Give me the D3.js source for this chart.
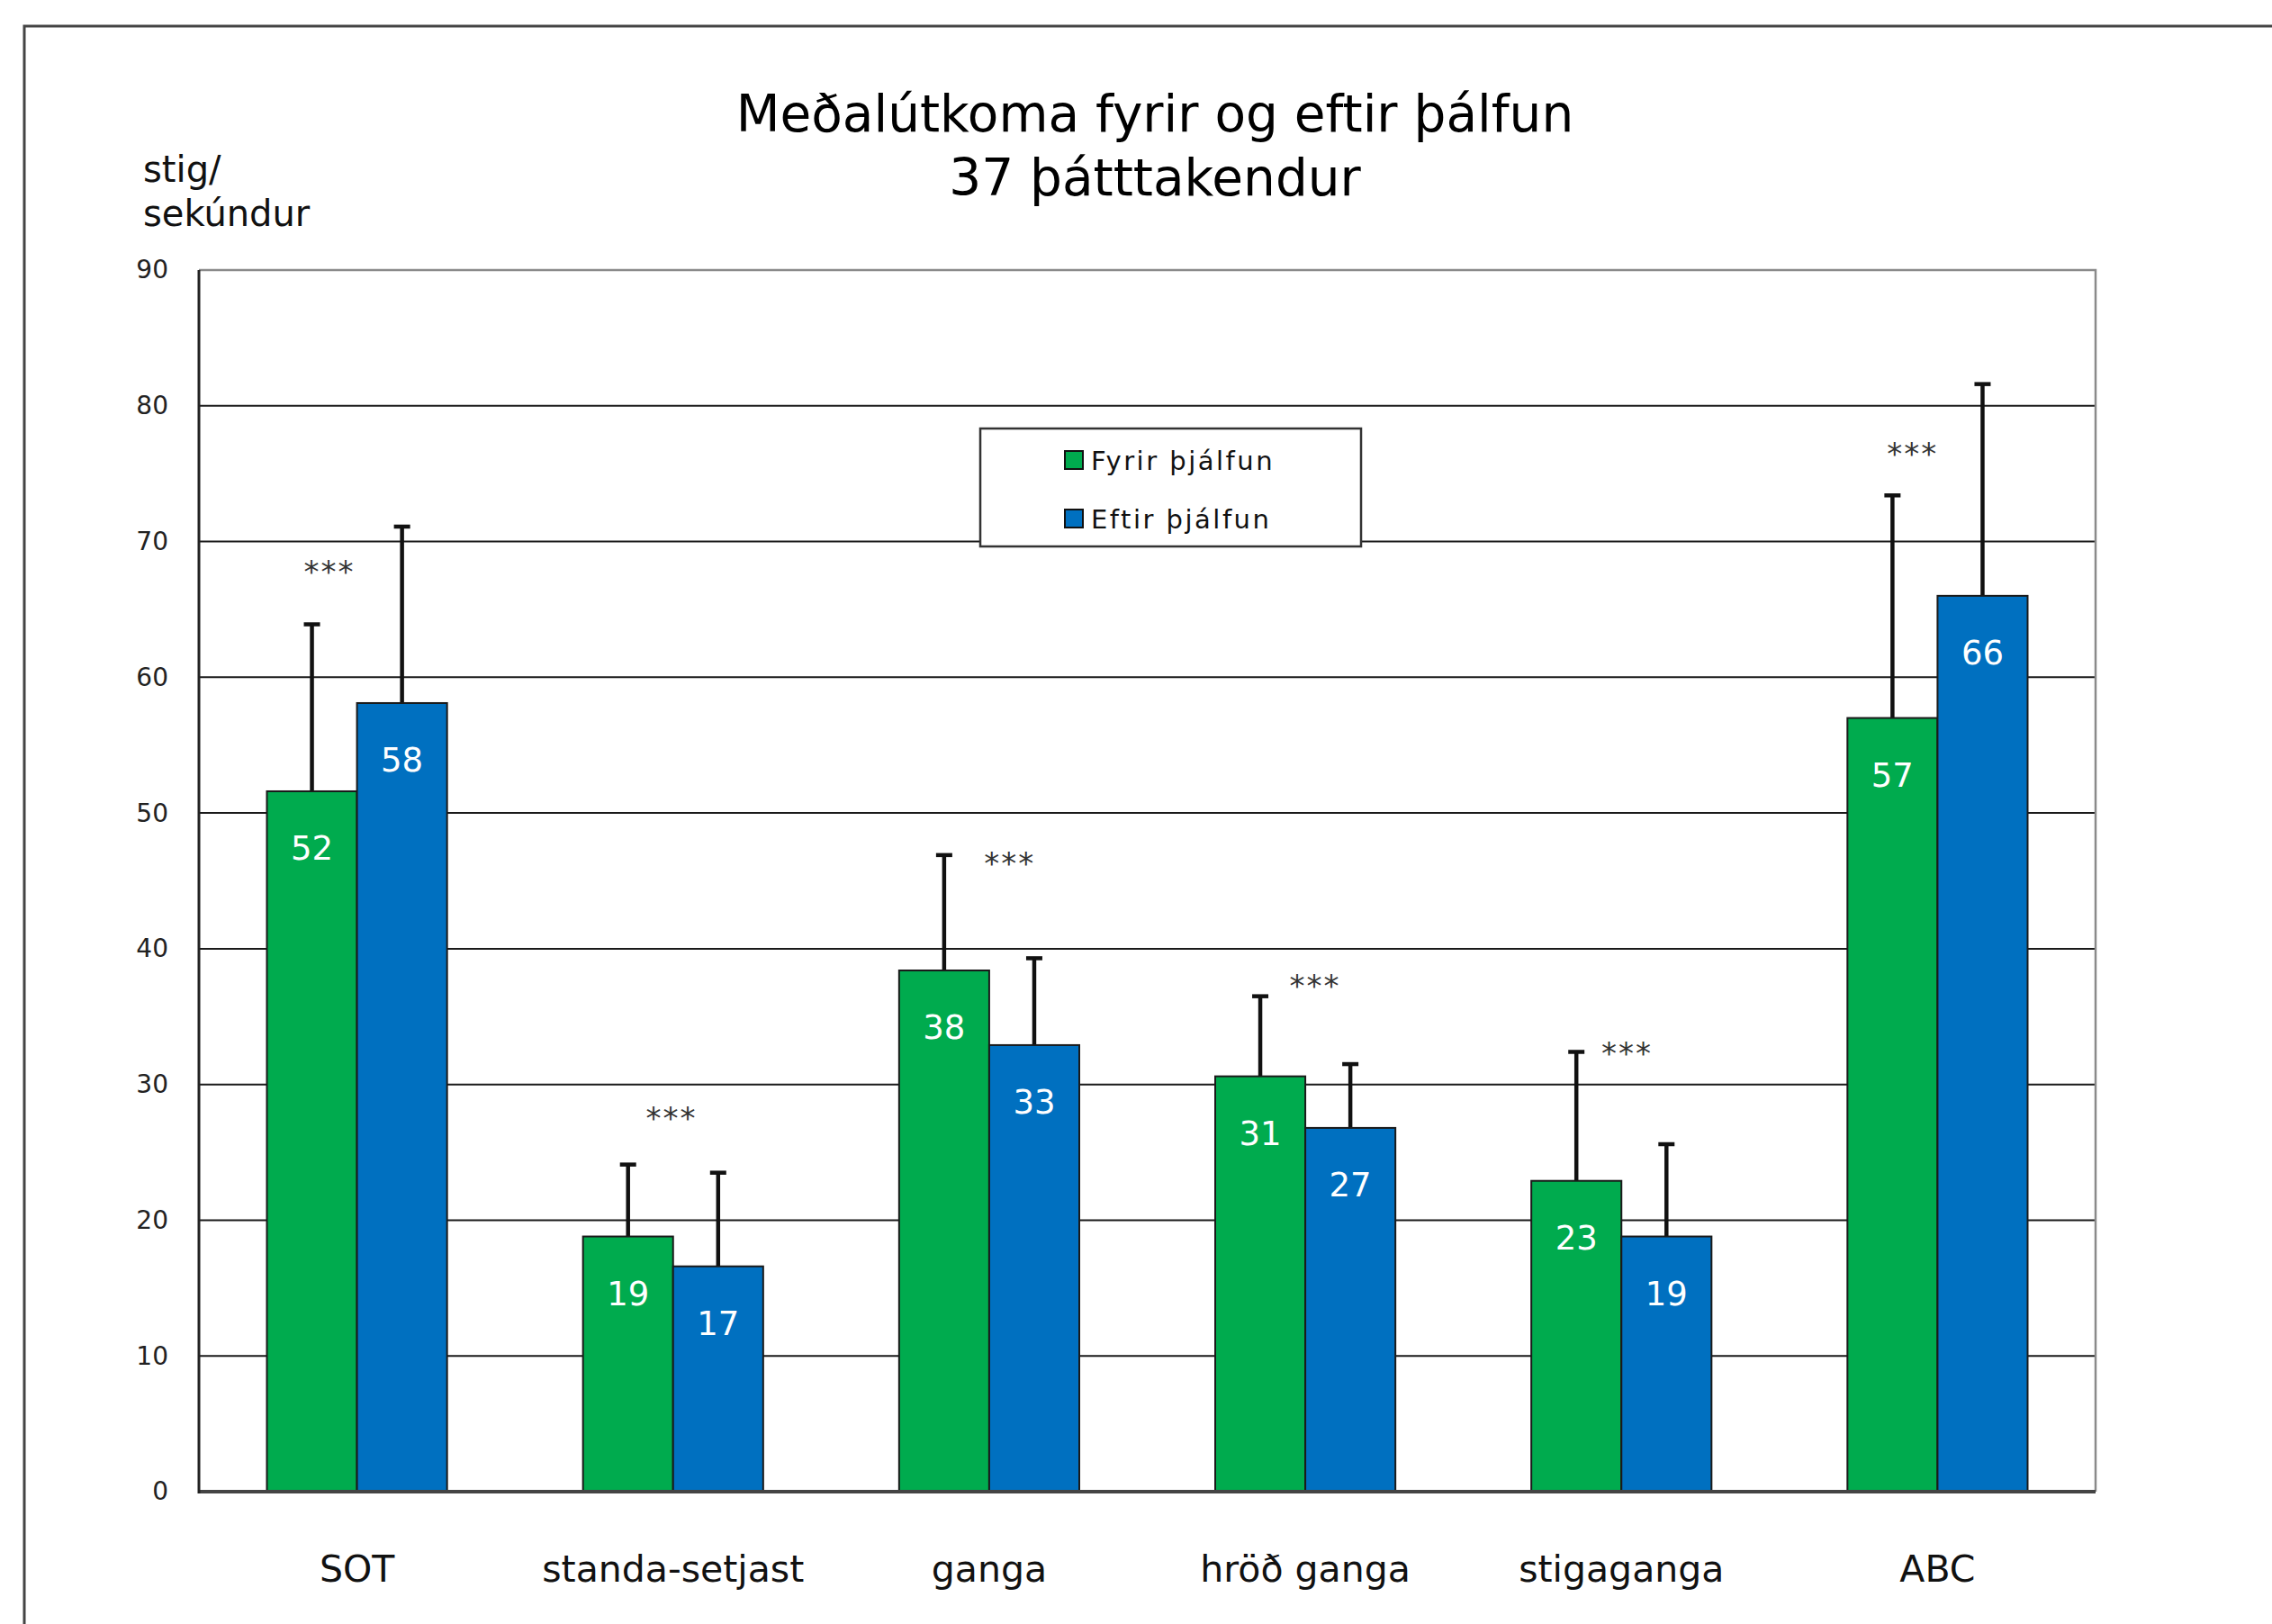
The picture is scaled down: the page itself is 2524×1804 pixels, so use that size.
<!DOCTYPE html>
<html>
<head>
<meta charset="utf-8">
<script src="https://cdn.jsdelivr.net/npm/d3@7"></script>
<style>
  html, body { margin: 0; padding: 0; background: #fff; }
  svg { display: block; }
  text { font-family: "DejaVu Sans", Verdana, sans-serif; }
</style>
</head>
<body>
<svg id="chart" width="2524" height="1804"></svg>
<script>
// ---- data ----
const categories = ["SOT", "standa-setjast", "ganga", "hröð ganga", "stigaganga", "ABC"];
const seriesNames = ["Fyrir þjálfun", "Eftir þjálfun"];
const fyrir = [51.6, 18.8, 38.4, 30.6, 22.9, 57.0];
const eftir = [58.1, 16.6, 32.9, 26.8, 18.8, 66.0];
const fyrirErr = [12.3, 5.3, 8.5, 5.9, 9.5, 16.4];
const eftirErr = [13.0, 6.9, 6.4, 4.7, 6.8, 15.6];
const yTicks = [0, 10, 20, 30, 40, 50, 60, 70, 80, 90];
const starLevels = [68.4, 28.1, 46.9, 37.9, 32.9, 77.1];
const starShift = [-0.087, -0.005, 0.065, 0.031, 0.018, -0.079];
const titleLines = ["Meðalútkoma fyrir og eftir þálfun", "37 þátttakendur"];
const yTitleLines = ["stig/", "sekúndur"];
const colors = ["#00AB4E", "#0070C0"];

// ---- layout ----
const svg = d3.select("#chart");
const plot = { left: 221, right: 2328, top: 300, bottom: 1657 };

// outer frame
svg.append("rect").attr("x", 27).attr("y", 29).attr("width", 2700).attr("height", 2000)
  .attr("fill", "#fff").attr("stroke", "#444").attr("stroke-width", 3);

const x = d3.scaleBand().domain(categories).range([plot.left, plot.right])
  .paddingInner(0.43).paddingOuter(0.215);
const xs = d3.scaleBand().domain(seriesNames).range([0, x.bandwidth()]);
const y = d3.scaleLinear().domain([0, 90]).range([plot.bottom, plot.top]);

// plot background
svg.append("rect").attr("x", plot.left).attr("y", plot.top)
  .attr("width", plot.right - plot.left).attr("height", plot.bottom - plot.top)
  .attr("fill", "#fff");

// gridlines
svg.append("g").selectAll("line").data(yTicks.filter(d => d > 0 && d < 90)).join("line")
  .attr("x1", plot.left).attr("x2", plot.right)
  .attr("y1", d => y(d)).attr("y2", d => y(d))
  .attr("stroke", "#1a1a1a").attr("stroke-width", 2);

// top/right frame
svg.append("path")
  .attr("d", `M${plot.left},${y(90)}H${plot.right}V${plot.bottom}`)
  .attr("fill", "none").attr("stroke", "#8a8a8a").attr("stroke-width", 2.5);

// y axis
const yAxis = d3.axisLeft(y).tickValues(yTicks).tickSize(0).tickPadding(34);
const gy = svg.append("g").attr("transform", `translate(${plot.left},0)`).call(yAxis);
gy.select(".domain").remove();
gy.selectAll("text").attr("font-size", 28).attr("fill", "#222")
  .attr("font-family", "DejaVu Sans, Verdana, sans-serif");

// legend
const lg = svg.append("g");
lg.append("rect").attr("x", 1089).attr("y", 476).attr("width", 423).attr("height", 131)
  .attr("fill", "#fff").attr("stroke", "#333").attr("stroke-width", 2.5);
seriesNames.forEach((s, i) => {
  const cy = 511 + i * 65;
  lg.append("rect").attr("x", 1183).attr("y", cy - 10).attr("width", 20).attr("height", 20)
    .attr("fill", colors[i]).attr("stroke", "#111").attr("stroke-width", 2);
  lg.append("text").attr("x", 1212).attr("y", cy + 11).text(s)
    .attr("font-size", 29).attr("letter-spacing", 2.5).attr("fill", "#111");
});

// bars
const data = categories.map((c, i) => ({
  cat: c,
  vals: [
    { s: seriesNames[0], v: fyrir[i], e: fyrirErr[i], color: colors[0] },
    { s: seriesNames[1], v: eftir[i], e: eftirErr[i], color: colors[1] }
  ]
}));

const groups = svg.append("g").selectAll("g").data(data).join("g")
  .attr("transform", d => `translate(${x(d.cat)},0)`);

// error bars
groups.selectAll("g.err").data(d => d.vals).join("g").attr("class", "err")
  .each(function(d) {
    const g = d3.select(this);
    const cx = xs(d.s) + xs.bandwidth() / 2;
    g.append("line").attr("x1", cx).attr("x2", cx)
      .attr("y1", y(d.v)).attr("y2", y(d.v + d.e))
      .attr("stroke", "#111").attr("stroke-width", 4.5);
    g.append("line").attr("x1", cx - 9).attr("x2", cx + 9)
      .attr("y1", y(d.v + d.e)).attr("y2", y(d.v + d.e))
      .attr("stroke", "#111").attr("stroke-width", 4.5);
  });

groups.selectAll("rect.bar").data(d => d.vals).join("rect").attr("class", "bar")
  .attr("x", d => xs(d.s)).attr("width", xs.bandwidth())
  .attr("y", d => y(d.v)).attr("height", d => y(0) - y(d.v))
  .attr("fill", d => d.color).attr("stroke", "#1a1a1a").attr("stroke-width", 2);

// value labels
groups.selectAll("text.val").data(d => d.vals).join("text").attr("class", "val")
  .attr("x", d => xs(d.s) + xs.bandwidth() / 2)
  .attr("y", d => y(d.v) + 76)
  .attr("text-anchor", "middle").attr("font-size", 37).attr("fill", "#fff")
  .text(d => Math.round(d.v));

// bottom axis line
svg.append("line").attr("x1", plot.left).attr("x2", plot.right)
  .attr("y1", plot.bottom).attr("y2", plot.bottom)
  .attr("stroke", "#444").attr("stroke-width", 4);
// left axis line
svg.append("line").attr("x1", plot.left).attr("x2", plot.left)
  .attr("y1", plot.top).attr("y2", plot.bottom + 2)
  .attr("stroke", "#222").attr("stroke-width", 3);

// x category labels
const xAxis = d3.axisBottom(x).tickSize(0).tickPadding(0);
const gx = svg.append("g").attr("transform", `translate(0,${plot.bottom})`).call(xAxis);
gx.select(".domain").remove();
gx.selectAll("text").attr("dy", null).attr("y", 100)
  .attr("font-size", 41).attr("fill", "#111")
  .attr("font-family", "DejaVu Sans, Verdana, sans-serif");

// significance stars
svg.append("g").selectAll("text").data(categories).join("text")
  .attr("x", (c, i) => x(c) + x.bandwidth() / 2 + starShift[i] * x.step())
  .attr("y", (c, i) => y(starLevels[i]) + 21)
  .attr("text-anchor", "middle").attr("font-size", 34).attr("letter-spacing", 2)
  .attr("fill", "#333").text("***");

// title
svg.append("g").selectAll("text").data(titleLines).join("text")
  .attr("x", 1283).attr("y", (d, i) => 146 + i * 71)
  .attr("text-anchor", "middle").attr("font-size", 56.5).attr("fill", "#000")
  .text(d => d);

// y title
svg.append("g").selectAll("text").data(yTitleLines).join("text")
  .attr("x", 159).attr("y", (d, i) => 202 + i * 49)
  .attr("font-size", 40).attr("fill", "#111")
  .text(d => d);
</script>
</body>
</html>
